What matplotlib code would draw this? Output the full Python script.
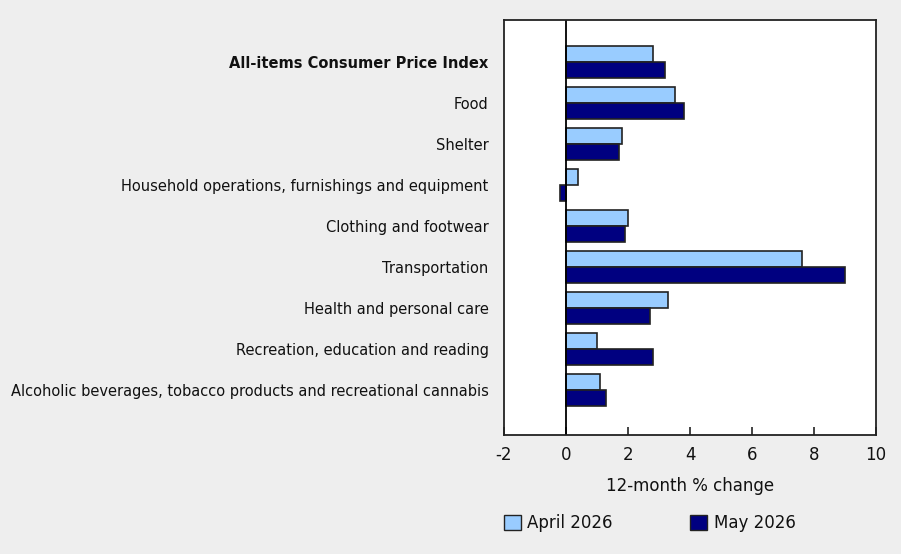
import numpy as np
import matplotlib.pyplot as plt
from matplotlib.patches import Patch

# data
categories = [
    'All-items Consumer Price Index',
    'Food',
    'Shelter',
    'Household operations, furnishings and equipment',
    'Clothing and footwear',
    'Transportation',
    'Health and personal care',
    'Recreation, education and reading',
    'Alcoholic beverages, tobacco products and recreational cannabis',
]
april_2026 = [2.8, 3.5, 1.8, 0.4, 2.0, 7.6, 3.3, 1.0, 1.1]
may_2026 = [3.2, 3.8, 1.7, -0.2, 1.9, 9.0, 2.7, 2.8, 1.3]
x_ticks = [-2, 0, 2, 4, 6, 8, 10]

BG = '#eeeeee'
C_APR = '#99ccff'
C_MAY = '#000080'
EDGE = '#222222'

plt.rcParams['font.family'] = ['DejaVu Sans']

fig = plt.figure(figsize=(9.01, 5.54), dpi=100, facecolor=BG)
ax = fig.add_axes([504 / 901, 1 - 435 / 554, 372 / 901, 415 / 554])
ax.set_facecolor('white')

y = np.arange(len(categories))
h = 0.39
ax.barh(y - h / 2, april_2026, height=h, color=C_APR, edgecolor=EDGE, lw=1.2)
ax.barh(y + h / 2, may_2026, height=h, color=C_MAY, edgecolor=EDGE, lw=1.2)

ax.axvline(0, color='black', lw=1.3)
ax.set_xlim(-2, 10)
ax.set_ylim(8 + 45 / 41, -42 / 41)
ax.set_xticks(x_ticks)
ax.set_xticklabels([str(t) for t in x_ticks], fontsize=12)
ax.tick_params(axis='x', direction='in', length=6, width=1.2, pad=8, colors='#222222')
ax.tick_params(axis='x', labelcolor='#111111')
ax.set_yticks(y)
ax.set_yticklabels(categories, fontsize=10.5, color='#111111')
ax.tick_params(axis='y', length=0, pad=11)
ax.get_yticklabels()[0].set_fontweight('bold')
for s in ax.spines.values():
    s.set_color('#222222')
    s.set_linewidth(1.3)

ax.set_xlabel('12-month % change', fontsize=12, labelpad=9, color='#111111')

handles = [Patch(facecolor=C_APR, edgecolor=EDGE, label='April 2026'),
           Patch(facecolor=C_MAY, edgecolor=EDGE, label='May 2026')]
fig.legend(handles=handles, loc='center left', bbox_to_anchor=(504 / 901, 1 - 523 / 554),
           ncol=2, frameon=False, fontsize=12, handlelength=1.0, handleheight=1.0,
           handletextpad=0.4, columnspacing=4.65, labelcolor='#111111',
           borderpad=0, borderaxespad=0)

fig.savefig('out.png', dpi=100, facecolor=BG)
